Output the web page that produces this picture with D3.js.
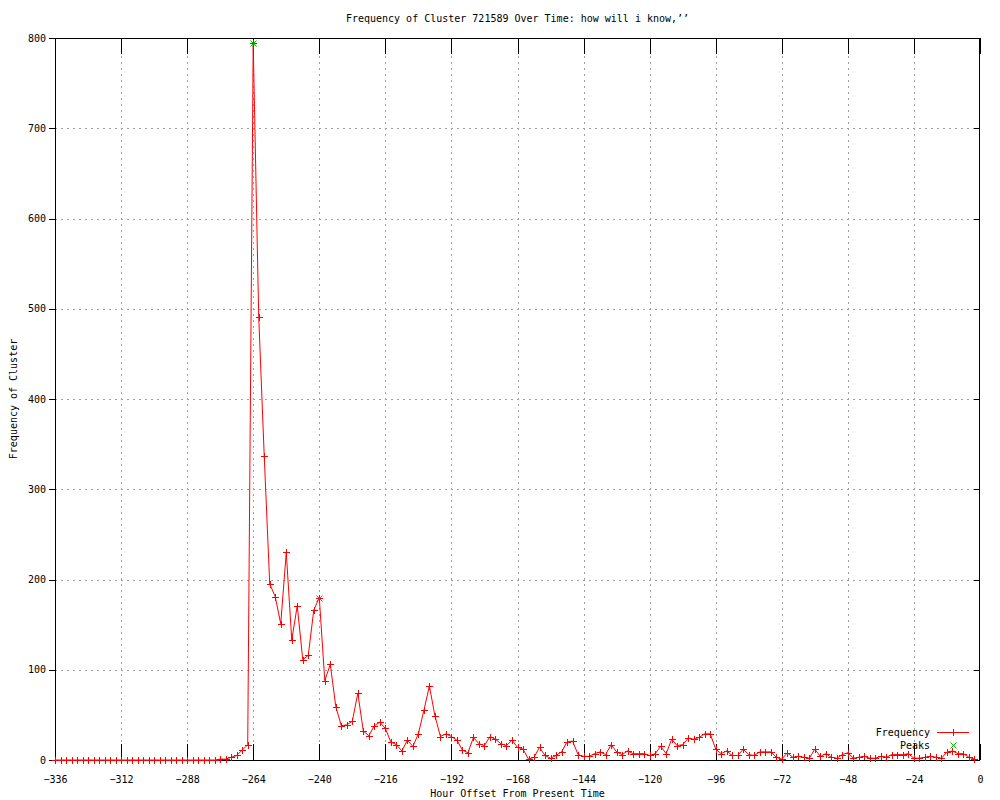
<!DOCTYPE html>
<html>
<head>
<meta charset="utf-8">
<script src="https://cdn.jsdelivr.net/npm/d3@7"></script>
<style>
  html, body { margin: 0; padding: 0; background: #fff; }
  svg text { font-family: "DejaVu Sans Mono", monospace; font-size: 10px; fill: #000; }
</style>
</head>
<body>
<svg id="chart" width="1000" height="800"></svg>
<script>
const titleText = "Frequency of Cluster 721589 Over Time: how will i know,\u2019\u2019";
const xLabelText = "Hour Offset From Present Time";
const yLabelText = "Frequency of Cluster";

const hours = [
  -336,-334,-332,-330,-328,-326,-324,-322,-320,-318,-316,-314,-312,-310,-308,-306,-304,-302,-300,-298,
  -296,-294,-292,-290,-288,-286,-284,-282,-280,-278,-276,-274,-272,-270,-268,-266,-264,-262,-260,-258,
  -256,-254,-252,-250,-248,-246,-244,-242,-240,-238,-236,-234,-232,-230,-228,-226,-224,-222,-220,-218,
  -216,-214,-212,-210,-208,-206,-204,-202,-200,-198,-196,-194,-192,-190,-188,-186,-184,-182,-180,-178,
  -176,-174,-172,-170,-168,-166,-164,-162,-160,-158,-156,-154,-152,-150,-148,-146,-144,-142,-140,-138,
  -136,-134,-132,-130,-128,-126,-124,-122,-120,-118,-116,-114,-112,-110,-108,-106,-104,-102,-100,-98,
  -96,-94,-92,-90,-88,-86,-84,-82,-80,-78,-76,-74,-72,-70,-68,-66,-64,-62,-60,-58,
  -56,-54,-52,-50,-48,-46,-44,-42,-40,-38,-36,-34,-32,-30,-28,-26,-24,-22,-20,-18,
  -16,-14,-12,-10,-8,-6,-4,-2
];
const frequency = [
  0,0,0,0,0,0,0,0,0,0,0,0,0,0,0,0,0,0,0,0,
  0,0,0,0,0,0,0,0,0,0,1,1,3,5,11,17,794,491,337,195,
  181,151,230,133,171,111,116,166,180,88,106,59,38,39,43,74,32,27,38,42,
  35,20,17,10,22,15,29,55,82,49,26,29,26,22,11,8,25,18,16,26,
  23,18,16,22,14,12,1,3,14,5,2,5,9,20,21,6,4,4,7,9,
  6,17,9,6,10,7,7,7,5,7,15,7,23,16,17,24,23,25,29,29,
  12,7,10,5,5,12,6,5,9,9,9,3,1,8,3,4,3,2,12,4,
  7,3,2,6,8,2,3,4,2,2,4,3,6,6,6,7,2,2,3,4,
  3,2,9,10,7,7,3,1
];
const peakHours = [-264, -240];
const peakValues = [794, 180];

const xTicks = [-336,-312,-288,-264,-240,-216,-192,-168,-144,-120,-96,-72,-48,-24,0];
const yTicks = [0,100,200,300,400,500,600,700,800];
const legendLabels = ["Frequency", "Peaks"];

const L = 55, R = 980, T = 38, B = 760;
const svg = d3.select("#chart");
const x = d3.scaleLinear().domain([-336, 0]).range([L, R]);
const y = d3.scaleLinear().domain([0, 800]).range([B, T]);

const red = "#ff0000", green = "#00c000";

// grid
const grid = svg.append("g").attr("shape-rendering", "crispEdges");
grid.selectAll("line.gx").data(xTicks.slice(1, -1)).enter().append("line")
  .attr("x1", d => Math.round(x(d)) + 0.5).attr("x2", d => Math.round(x(d)) + 0.5)
  .attr("y1", T).attr("y2", B)
  .attr("stroke", "#a0a0a0").attr("stroke-dasharray", "2,4");
grid.selectAll("line.gy").data(yTicks.slice(1, -1)).enter().append("line")
  .attr("y1", d => Math.round(y(d)) + 0.5).attr("y2", d => Math.round(y(d)) + 0.5)
  .attr("x1", L).attr("x2", R)
  .attr("stroke", "#a0a0a0").attr("stroke-dasharray", "2,4");

// axes with d3
const xAxisB = d3.axisBottom(x).tickValues(xTicks).tickSize(-16).tickPadding(22).tickFormat(d3.format("d"));
const xAxisT = d3.axisTop(x).tickValues(xTicks).tickSize(-16).tickFormat("");
const yAxisL = d3.axisLeft(y).tickValues(yTicks).tickSize(6).tickPadding(3).tickFormat(d3.format("d"));
const yAxisR = d3.axisRight(y).tickValues(yTicks).tickSize(-6).tickFormat("");

function styleAxis(g) {
  g.select(".domain").remove();
  g.selectAll("line").attr("stroke", "#000").attr("shape-rendering", "crispEdges");
  g.selectAll("text").attr("font-family", "DejaVu Sans Mono, monospace").attr("font-size", 10).attr("fill", "#000");
}
svg.append("g").attr("transform", `translate(0,${B})`).call(xAxisB).call(styleAxis)
  .selectAll("text").attr("dy", "0.1em").text(d => d3.format("d")(d).replace("-", "\u2212"));
svg.append("g").attr("transform", `translate(0,${T})`).call(xAxisT).call(styleAxis);
svg.append("g").attr("transform", `translate(${L},0)`).call(yAxisL).call(styleAxis);
svg.append("g").attr("transform", `translate(${R},0)`).call(yAxisR).call(styleAxis);

// frame
svg.append("rect").attr("x", L + 0.5).attr("y", T + 0.5).attr("width", R - L - 1).attr("height", B - T)
  .attr("fill", "none").attr("stroke", "#000").attr("shape-rendering", "crispEdges");

// data line
const pts = hours.map((h, i) => [h, frequency[i]]);
const line = d3.line().x(d => x(d[0])).y(d => y(d[1]));
svg.append("path").datum(pts).attr("d", line).attr("fill", "none").attr("stroke", red).attr("stroke-width", 1);

// plus markers
const plusPath = "M-3.5,0H3.5M0,-3.5V3.5";
svg.append("g").selectAll("path").data(pts).enter().append("path")
  .attr("transform", d => `translate(${Math.round(x(d[0])) + 0.5},${Math.round(y(d[1])) + 0.5})`)
  .attr("d", plusPath).attr("stroke", red).attr("stroke-width", 1).attr("shape-rendering", "crispEdges");

// peaks x markers
const xPath = "M-3,-3L3,3M-3,3L3,-3";
const peaks = peakHours.map((h, i) => [h, peakValues[i]]);
svg.append("g").selectAll("path").data(peaks).enter().append("path")
  .attr("transform", d => `translate(${Math.round(x(d[0])) + 0.5},${Math.round(y(d[1])) + 0.5})`)
  .attr("d", xPath).attr("stroke", green).attr("stroke-width", 1);

// legend
svg.append("text").attr("x", 930).attr("y", 732).attr("dy", "0.35em").attr("text-anchor", "end").text(legendLabels[0]);
svg.append("line").attr("x1", 937).attr("x2", 969).attr("y1", 732.5).attr("y2", 732.5).attr("stroke", red).attr("shape-rendering", "crispEdges");
svg.append("path").attr("transform", "translate(953.5,732.5)").attr("d", plusPath).attr("stroke", red).attr("shape-rendering", "crispEdges");
svg.append("text").attr("x", 930).attr("y", 745).attr("dy", "0.35em").attr("text-anchor", "end").text(legendLabels[1]);
svg.append("path").attr("transform", "translate(953.5,745.5)").attr("d", xPath).attr("stroke", green);

// titles
svg.append("text").attr("x", 517.5).attr("y", 18).attr("dy", "0.35em").attr("text-anchor", "middle").text(titleText);
svg.append("text").attr("x", 517.5).attr("y", 793).attr("dy", "0.35em").attr("text-anchor", "middle").text(xLabelText);
svg.append("text").attr("transform", "translate(13,399) rotate(-90)").attr("dy", "0.35em").attr("text-anchor", "middle").text(yLabelText);
</script>
</body>
</html>
